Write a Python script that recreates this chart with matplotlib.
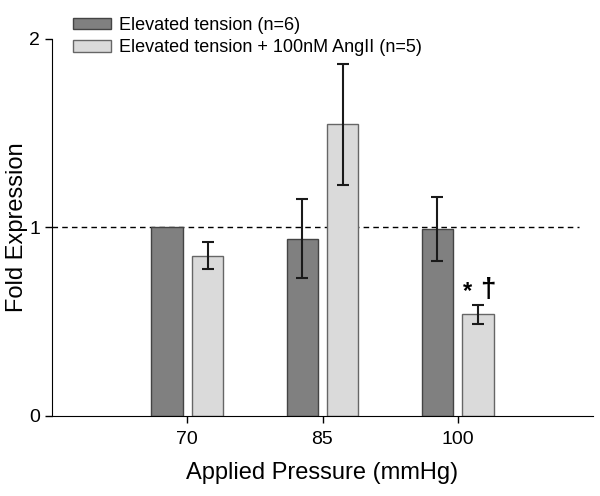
import matplotlib
matplotlib.use("Agg")
import matplotlib.pyplot as plt
import numpy as np

plt.rcParams['font.family'] = ['Liberation Sans', 'DejaVu Sans']

# data
pressures = ['70', '85', '100']
tension = [1.0, 0.94, 0.99]
tension_err = [0.0, 0.21, 0.17]
angii = [0.85, 1.545, 0.54]
angii_err = [0.07, 0.32, 0.05]
labels = ['Elevated tension (n=6)', 'Elevated tension + 100nM AngII (n=5)']

x = np.arange(len(pressures))
w = 0.23

fig = plt.figure(figsize=(6, 4.96), dpi=100)
ax = fig.add_axes([52/600, 1 - 416/496, 541/600, (416 - 38.6)/496])

ax.bar(x - 0.15, tension, w, color='#808080', edgecolor='#444444', linewidth=1, label=labels[0], zorder=2)
ax.bar(x + 0.15, angii, w, color='#dadada', edgecolor='#666666', linewidth=1, label=labels[1], zorder=2)
ax.errorbar(x[1:] - 0.15, tension[1:], yerr=tension_err[1:], fmt='none', ecolor='#1a1a1a',
            elinewidth=1.5, capsize=4, capthick=1.5, zorder=3)
ax.errorbar(x + 0.15, angii, yerr=angii_err, fmt='none', ecolor='#1a1a1a',
            elinewidth=1.5, capsize=4, capthick=1.5, zorder=3)

ax.hlines(1, -1, 2.9, colors='black', linestyles=(0, (4, 3)), linewidth=1, zorder=1)

ax.text(2.075, 0.6, '*', fontsize=17, fontweight='bold', ha='center', va='bottom')
ax.text(2.225, 0.6, '†', fontsize=20, fontweight='bold', ha='center', va='bottom')

ax.set_xlim(-1, 3)
ax.set_ylim(0, 2)
ax.set_xticks(x)
ax.set_xticklabels(pressures)
ax.set_yticks([0, 1, 2])
ax.spines['top'].set_visible(False)
ax.spines['right'].set_visible(False)
ax.tick_params(labelsize=14, length=5, width=1)
ax.tick_params(axis='x', pad=6)
ax.set_xlabel('Applied Pressure (mmHg)', fontsize=17, labelpad=10)
ax.set_ylabel('Fold Expression', fontsize=17)
ax.yaxis.set_label_coords(-0.045, 0.5)

ax.legend(loc='upper left', bbox_to_anchor=(73/600, 1 - 17/496), bbox_transform=fig.transFigure,
          frameon=False, fontsize=13, borderpad=0, borderaxespad=0, handlelength=2.1,
          handleheight=0.6, handletextpad=0.45, labelspacing=0.3)

fig.savefig('out.png', dpi=100)
